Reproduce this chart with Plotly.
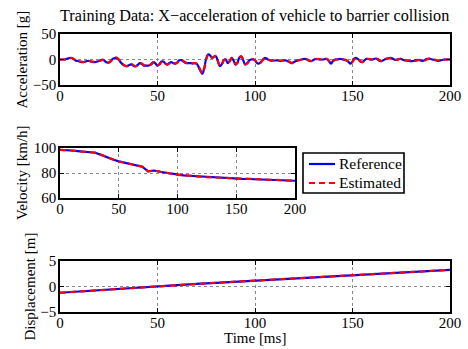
import plotly.graph_objects as go

# ---- data -------------------------------------------------------------
# acceleration sampled every 1 ms (0..200 ms), in g
t_acc = list(range(0, 201))
acc_reference = [
    0, 0, 0, 1, 2, 3, 3, 1, -2, -3,
    -4, -5, -5, -4, -3, -3, -4, -5, -5, -4,
    -3, -1, -1, -3, -6, -6, -3, 1, 3, 3,
    0, -5, -9, -12, -13, -12, -10, -10, -13, -13,
    -10, -7, -9, -12, -12, -12, -11, -8, -5, -8,
    -12, -9, -4, -4, -8, -10, -7, -5, -7, -8,
    -6, -2, -1, -3, -6, -7, -7, -7, -8, -7,
    -8, -14, -22, -28, -16, 2, 10, 8, 3, 6,
    6, -4, -13, -9, -1, 0, -7, -3, 3, -2,
    -10, -6, 4, 6, -2, -10, -7, -2, 0, 0,
    -2, -7, -8, -5, 0, 3, 2, -1, -2, -2,
    -2, -2, -2, -3, -2, -2, -2, -4, -6, -7,
    -5, -3, -2, -1, 0, 1, 1, -1, -3, -3,
    -1, 1, 1, 0, 0, 0, 1, 1, -4, -8,
    -3, 0, 0, 1, 1, 0, -1, -2, -5, -8,
    -4, 2, 3, 0, -4, -5, -2, 1, 1, 0,
    0, 1, 2, 0, -3, -3, -1, 1, 2, 3,
    3, 1, -1, 0, 1, 1, -1, -2, -2, -3,
    -3, -3, -2, -1, -1, -2, -3, -1, 1, 2,
    1, 0, -1, -2, -3, -2, -1, 0, 0, 0,
    0,
]
acc_estimated = [
    0, 0, 0, 0, 1, 2, 3, 1, -1, -3,
    -4, -4, -5, -4, -4, -3, -4, -4, -5, -4,
    -3, -2, 0, -3, -5, -6, -4, 0, 3, 4,
    1, -4, -9, -11, -13, -13, -11, -10, -12, -13,
    -11, -7, -8, -11, -12, -13, -11, -9, -5, -7,
    -11, -10, -5, -4, -7, -10, -8, -5, -6, -8,
    -7, -3, -1, -2, -5, -7, -8, -7, -7, -7,
    -8, -13, -21, -27, -18, 0, 9, 9, 3, 5,
    7, -3, -12, -10, -2, 0, -6, -4, 2, -1,
    -9, -7, 3, 6, -1, -9, -8, -3, 0, 1,
    -1, -6, -8, -6, -1, 2, 2, 0, -2, -2,
    -2, -3, -2, -2, -2, -3, -2, -3, -5, -7,
    -6, -4, -2, -1, 0, 0, 1, 0, -2, -3,
    -2, 0, 1, 1, 0, 0, 0, 1, -3, -7,
    -4, -1, 0, 0, 1, 1, 0, -2, -4, -7,
    -5, 1, 3, 1, -3, -5, -3, 0, 1, 1,
    0, 0, 2, 1, -2, -3, -2, 0, 2, 2,
    3, 2, 0, -1, 1, 1, 0, -1, -2, -2,
    -3, -3, -3, -2, -1, -1, -2, -2, 0, 1,
    2, 1, 0, -1, -2, -3, -2, -1, 0, 0,
    0,
]

# velocity sampled every 5 ms, in km/h
t_vel = list(range(0, 201, 5))
vel_reference = [
    98.5, 98.4, 98.0, 97.5, 97.0, 96.6, 96.2, 94.5, 92.5, 90.8,
    89.3, 88.2, 87.3, 86.3, 85.0, 81.3, 82.0, 81.0, 80.3, 79.5,
    78.6, 78.1, 77.8, 77.5, 77.0, 76.6, 76.4, 76.3, 76.2, 75.9,
    75.6, 75.3, 75.2, 75.1, 75.0, 74.8, 74.6, 74.4, 74.2, 74.0,
    73.8,
]
vel_estimated = [
    98.5, 98.3, 98.0, 97.6, 97.0, 96.5, 96.3, 94.6, 92.4, 90.9,
    89.2, 88.3, 87.2, 86.4, 85.1, 81.4, 81.9, 81.1, 80.2, 79.6,
    78.5, 78.2, 77.7, 77.5, 77.1, 76.6, 76.5, 76.3, 76.1, 75.9,
    75.7, 75.3, 75.3, 75.1, 74.9, 74.8, 74.7, 74.4, 74.2, 74.1,
    73.8,
]

# displacement sampled every 10 ms, in m
t_disp = list(range(0, 201, 10))
disp_reference = [
    -1.23, -0.96, -0.70, -0.44, -0.19, 0.05, 0.28, 0.51, 0.73, 0.95,
    1.17, 1.39, 1.60, 1.82, 2.04, 2.26, 2.46, 2.66, 2.86, 3.06, 3.25,
]
disp_estimated = [
    -1.22, -0.96, -0.71, -0.44, -0.18, 0.05, 0.29, 0.51, 0.74, 0.95,
    1.17, 1.38, 1.61, 1.82, 2.03, 2.26, 2.47, 2.66, 2.87, 3.06, 3.26,
]

x_ticks = [0, 50, 100, 150, 200]
acc_ticks = [-50, 0, 50]
vel_ticks = [60, 80, 100]
disp_ticks = [-5, 0, 5]

series_names = ["Reference", "Estimated"]
title_text = "Training Data: X\u2212acceleration of vehicle to barrier collision"

# ---- styling ----------------------------------------------------------
W, H = 468, 349
FONT = "Liberation Serif, Times New Roman, serif"
BLUE = "rgb(0,0,255)"
RED = "rgb(255,0,0)"
LW = 2.2
DASH = "6px,4px"


def px_x(a, b):
    return [a / W, b / W]


def px_y(top, bottom):
    return [1 - bottom / H, 1 - top / H]


def tick_text(vals):
    return [str(v).replace("-", "\u2212") for v in vals]


fig = go.Figure()

panels = [
    ("", t_acc, acc_reference, acc_estimated, "spline"),
    ("2", t_vel, vel_reference, vel_estimated, "linear"),
    ("3", t_disp, disp_reference, disp_estimated, "linear"),
]
for suffix, t, ref, est, shape in panels:
    fig.add_trace(go.Scatter(
        x=t, y=ref, mode="lines", name=series_names[0],
        line=dict(color=BLUE, width=LW, shape=shape),
        xaxis="x" + suffix, yaxis="y" + suffix, showlegend=False,
    ))
    fig.add_trace(go.Scatter(
        x=t, y=est, mode="lines", name=series_names[1],
        line=dict(color=RED, width=LW, dash=DASH, shape=shape),
        xaxis="x" + suffix, yaxis="y" + suffix, showlegend=False,
    ))

axis_common = dict(
    showline=True, linecolor="black", linewidth=1.6, mirror="ticks",
    ticks="inside", ticklen=4, tickwidth=1, tickcolor="black",
    showgrid=True, gridcolor="#8a8a8a", gridwidth=1, griddash="dot",
    zeroline=False, tickfont=dict(family=FONT, size=15, color="black"),
    fixedrange=True, automargin=False, ticklabeloverflow="allow",
)

layout_axes = {}
for suffix, xdom, ydom, yrange, yticks in [
    ("", px_x(60, 450), px_y(34, 85), [-50, 50], acc_ticks),
    ("2", px_x(60, 295), px_y(148, 198), [60, 100], vel_ticks),
    ("3", px_x(60, 450), px_y(261, 312), [-5, 5], disp_ticks),
]:
    layout_axes["xaxis" + suffix] = dict(
        axis_common, domain=xdom, range=[0, 200],
        tickmode="array", tickvals=x_ticks, ticktext=tick_text(x_ticks),
        anchor="y" + suffix, ticklabelstandoff=-4,
    )
    layout_axes["yaxis" + suffix] = dict(
        axis_common, domain=ydom, range=yrange,
        tickmode="array", tickvals=yticks, ticktext=tick_text(yticks),
        anchor="x" + suffix, ticklabelstandoff=-1,
    )

fig.update_layout(
    width=W, height=H, autosize=False,
    margin=dict(l=0, r=0, t=0, b=0, pad=0, autoexpand=False),
    paper_bgcolor="white", plot_bgcolor="white",
    font=dict(family=FONT, size=15, color="black"),
    showlegend=False,
    **layout_axes,
)

# legend box next to the velocity panel
box_l, box_r, box_t, box_b = 303, 404, 153, 193
fig.add_shape(
    type="rect", xref="paper", yref="paper",
    x0=box_l / W, x1=box_r / W, y0=1 - box_b / H, y1=1 - box_t / H,
    line=dict(color="black", width=1.6), fillcolor="white", layer="above",
)
for name, color, dash, y_px in [
    (series_names[0], BLUE, "solid", 164),
    (series_names[1], RED, DASH, 183),
]:
    fig.add_shape(
        type="line", xref="paper", yref="paper",
        x0=309 / W, x1=335 / W, y0=1 - y_px / H, y1=1 - y_px / H,
        line=dict(color=color, width=LW, dash=dash), layer="above",
    )
    fig.add_annotation(
        text=name, xref="paper", yref="paper",
        x=336.5 / W, y=1 - y_px / H, showarrow=False,
        xanchor="left", yanchor="middle",
        font=dict(family=FONT, size=15.5, color="black"),
    )

annotations = [
    (title_text, 255, 16, 0, 16.2),
    ("Acceleration [g]", 21, 59.5, -90, 15),
    ("Velocity [km/h]", 22, 173, -90, 15),
    ("Displacement [m]", 29, 286.5, -90, 15),
    ("Time [ms]", 255, 338, 0, 15),
]
for text, x_px, y_px, angle, size in annotations:
    fig.add_annotation(
        text=text, xref="paper", yref="paper",
        x=x_px / W, y=1 - y_px / H, textangle=angle,
        showarrow=False, xanchor="center", yanchor="middle",
        font=dict(family=FONT, size=size, color="black"),
    )

fig.write_html("out.html", config=dict(displayModeBar=False, responsive=False))
